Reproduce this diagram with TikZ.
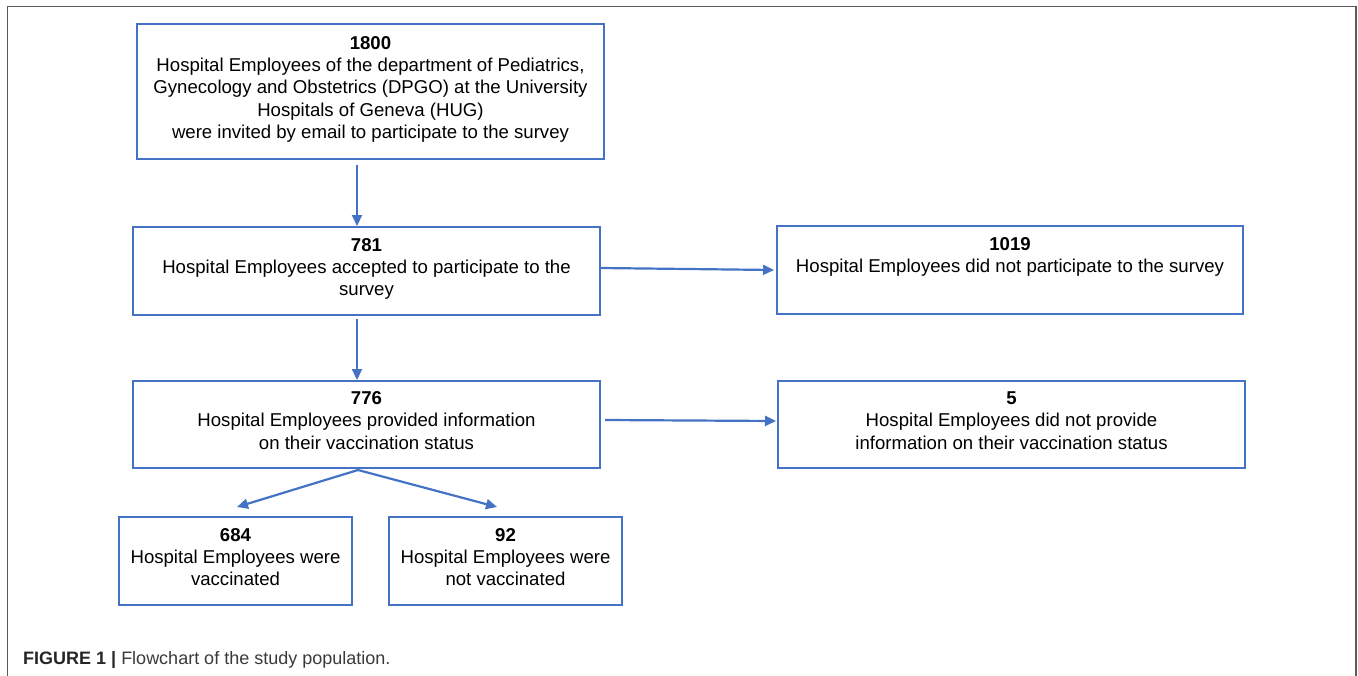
\documentclass[tikz,border=0pt]{standalone}
\usepackage{fontspec}
\setmainfont{Liberation Sans}
\usetikzlibrary{arrows.meta}
\definecolor{boxblue}{HTML}{4472C4}
\definecolor{framegray}{HTML}{5A5A5A}
\definecolor{captext}{HTML}{3A3A3A}
\newcommand\boxtext[1]{\raisebox{2pt}[\height][\depth]{\begin{tabular}{@{}c@{}}#1\end{tabular}}}
\begin{document}
\begin{tikzpicture}[x=1pt,y=-1pt,
  box/.style={draw=boxblue,line width=2pt,inner sep=0pt,
    font=\fontsize{18.6}{22.3}\selectfont},
  arr/.style={draw=boxblue,line width=2.2pt,-{Triangle[length=11pt,width=10pt]}}]
\useasboundingbox (0,0) rectangle (1358,675);
\draw[framegray,line width=1.8pt] (7.5,680) -- (7.5,6.5) -- (1356,6.5) -- (1356,680);
\node[box,minimum width=467pt,minimum height=135pt] (b1) at (370.5,91.5)
  {\boxtext{\textbf{1800}\\Hospital Employees of the department of Pediatrics,\\Gynecology and Obstetrics (DPGO) at the University\\Hospitals of Geneva (HUG)\\were invited by email to participate to the survey}};
\node[box,minimum width=467pt,minimum height=88pt] (b2) at (366.5,271)
  {\boxtext{\textbf{781}\\Hospital Employees accepted to participate to the\\survey}};
\node[box,minimum width=466pt,minimum height=88pt] (b3) at (1010,270)
  {\boxtext{\textbf{1019}\\Hospital Employees did not participate to the survey\\~}};
\node[box,minimum width=467pt,minimum height=87pt] (b4) at (366.5,424.5)
  {\boxtext{\textbf{776}\\Hospital Employees provided information\\on their vaccination status}};
\node[box,minimum width=467pt,minimum height=87pt] (b5) at (1011.5,424.5)
  {\boxtext{\textbf{5}\\Hospital Employees did not provide\\information on their vaccination status}};
\node[box,minimum width=233pt,minimum height=88pt] (b6) at (235.5,561)
  {\boxtext{\textbf{684}\\Hospital Employees were\\vaccinated}};
\node[box,minimum width=233pt,minimum height=88pt] (b7) at (505.5,561)
  {\boxtext{\textbf{92}\\Hospital Employees were\\not vaccinated}};
\coordinate (split) at (358,470);
\coordinate (t6) at (237,507);
\coordinate (t7) at (497,507);
\draw[arr] ([yshift=-5pt]b1.south -| 357,0) -- (b2.north -| 357,0);
\draw[arr] ([yshift=-3pt]b2.south -| 357,0) -- (b4.north -| 357,0);
\draw[arr] (b2.east |- 0,268) -- ([xshift=-2pt]b3.west |- 0,270);
\draw[arr] ([xshift=4pt]b4.east |- 0,420) -- ([xshift=-1pt]b5.west |- 0,421);
\draw[arr] (split) -- (t6);
\draw[arr] (split) -- (t7);
\node[anchor=base west,inner sep=0pt,font=\fontsize{18}{21}\selectfont,text=captext] (cap) at (23,664)
  {\textbf{\color{black!85}FIGURE 1 |} Flowchart of the study population.};
\end{tikzpicture}
\end{document}
